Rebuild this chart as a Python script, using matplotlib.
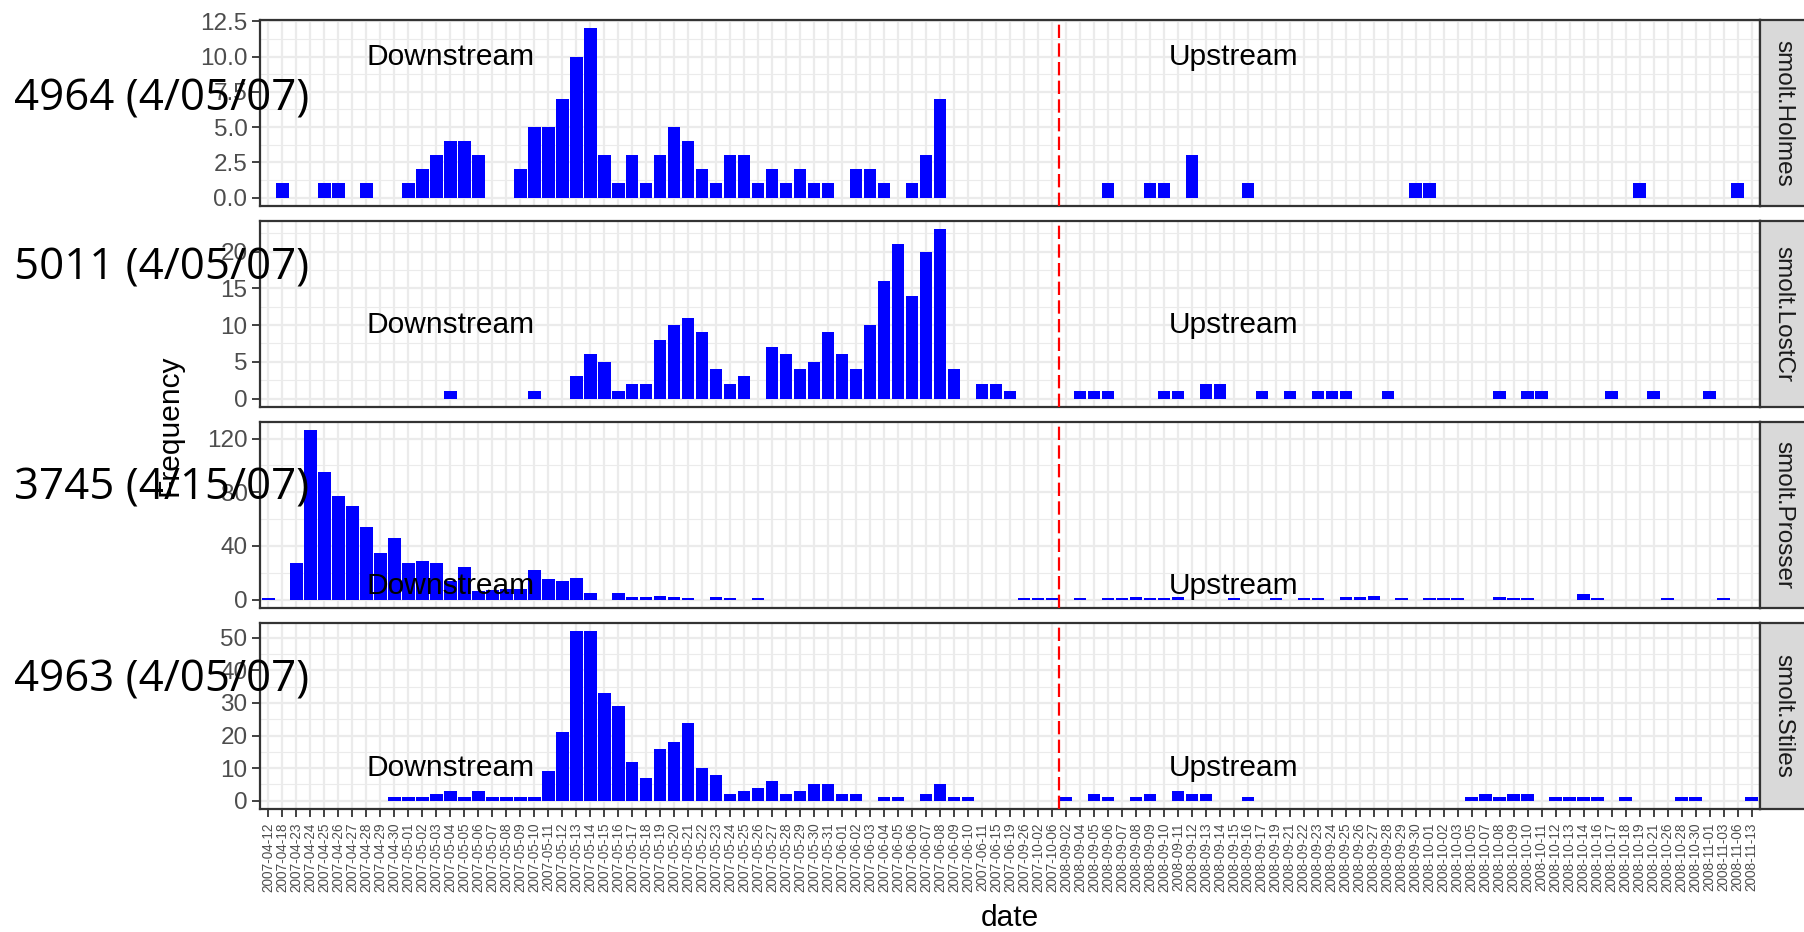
import numpy as np
import matplotlib.pyplot as plt

dates = [
    "2007-04-12", "2007-04-18", "2007-04-23", "2007-04-24", "2007-04-25", "2007-04-26",
    "2007-04-27", "2007-04-28", "2007-04-29", "2007-04-30", "2007-05-01", "2007-05-02",
    "2007-05-03", "2007-05-04", "2007-05-05", "2007-05-06", "2007-05-07", "2007-05-08",
    "2007-05-09", "2007-05-10", "2007-05-11", "2007-05-12", "2007-05-13", "2007-05-14",
    "2007-05-15", "2007-05-16", "2007-05-17", "2007-05-18", "2007-05-19", "2007-05-20",
    "2007-05-21", "2007-05-22", "2007-05-23", "2007-05-24", "2007-05-25", "2007-05-26",
    "2007-05-27", "2007-05-28", "2007-05-29", "2007-05-30", "2007-05-31", "2007-06-01",
    "2007-06-02", "2007-06-03", "2007-06-04", "2007-06-05", "2007-06-06", "2007-06-07",
    "2007-06-08", "2007-06-09", "2007-06-10", "2007-06-11", "2007-06-15", "2007-06-19",
    "2007-09-26", "2007-10-02", "2007-10-06",
    "2008-09-02", "2008-09-04", "2008-09-05", "2008-09-06", "2008-09-07", "2008-09-08",
    "2008-09-09", "2008-09-10", "2008-09-11", "2008-09-12", "2008-09-13", "2008-09-14",
    "2008-09-15", "2008-09-16", "2008-09-17", "2008-09-19", "2008-09-21", "2008-09-22",
    "2008-09-23", "2008-09-24", "2008-09-25", "2008-09-26", "2008-09-27", "2008-09-28",
    "2008-09-29", "2008-09-30", "2008-10-01", "2008-10-02", "2008-10-03", "2008-10-05",
    "2008-10-07", "2008-10-08", "2008-10-09", "2008-10-10", "2008-10-11", "2008-10-12",
    "2008-10-13", "2008-10-14", "2008-10-16", "2008-10-17", "2008-10-18", "2008-10-19",
    "2008-10-21", "2008-10-26", "2008-10-28", "2008-10-30", "2008-11-01", "2008-11-03",
    "2008-11-06", "2008-11-13",
]

# daily counts per site, one entry per date above
holmes = [
    0, 1, 0, 0, 1, 1, 0, 1, 0, 0,
    1, 2, 3, 4, 4, 3, 0, 0, 2, 5,
    5, 7, 10, 12, 3, 1, 3, 1, 3, 5,
    4, 2, 1, 3, 3, 1, 2, 1, 2, 1,
    1, 0, 2, 2, 1, 0, 1, 3, 7, 0,
    0, 0, 0, 0, 0, 0, 0, 0, 0, 0,
    1, 0, 0, 1, 1, 0, 3, 0, 0, 0,
    1, 0, 0, 0, 0, 0, 0, 0, 0, 0,
    0, 0, 1, 1, 0, 0, 0, 0, 0, 0,
    0, 0, 0, 0, 0, 0, 0, 0, 1, 0,
    0, 0, 0, 0, 0, 1, 0,
]
lostcr = [
    0, 0, 0, 0, 0, 0, 0, 0, 0, 0,
    0, 0, 0, 1, 0, 0, 0, 0, 0, 1,
    0, 0, 3, 6, 5, 1, 2, 2, 8, 10,
    11, 9, 4, 2, 3, 0, 7, 6, 4, 5,
    9, 6, 4, 10, 16, 21, 14, 20, 23, 4,
    0, 2, 2, 1, 0, 0, 0, 0, 1, 1,
    1, 0, 0, 0, 1, 1, 0, 2, 2, 0,
    0, 1, 0, 1, 0, 1, 1, 1, 0, 0,
    1, 0, 0, 0, 0, 0, 0, 0, 1, 0,
    1, 1, 0, 0, 0, 0, 1, 0, 0, 1,
    0, 0, 0, 1, 0, 0, 0,
]
prosser = [
    1, 0, 27, 126, 95, 77, 70, 54, 35, 46,
    27, 29, 27, 14, 24, 6, 7, 8, 8, 22,
    15, 14, 16, 5, 0, 5, 2, 2, 3, 2,
    1, 0, 2, 1, 0, 1, 0, 0, 0, 0,
    0, 0, 0, 0, 0, 0, 0, 0, 0, 0,
    0, 0, 0, 0, 1, 1, 1, 0, 1, 0,
    1, 1, 2, 1, 1, 2, 0, 0, 0, 1,
    0, 0, 1, 0, 1, 1, 0, 2, 2, 3,
    0, 1, 0, 1, 1, 1, 0, 0, 2, 1,
    1, 0, 0, 0, 4, 1, 0, 0, 0, 0,
    1, 0, 0, 0, 1, 0, 0,
]
stiles = [
    0, 0, 0, 0, 0, 0, 0, 0, 0, 1,
    1, 1, 2, 3, 1, 3, 1, 1, 1, 1,
    9, 21, 52, 52, 33, 29, 12, 7, 16, 18,
    24, 10, 8, 2, 3, 4, 6, 2, 3, 5,
    5, 2, 2, 0, 1, 1, 0, 2, 5, 1,
    1, 0, 0, 0, 0, 0, 0, 1, 0, 2,
    1, 0, 1, 2, 0, 3, 2, 2, 0, 0,
    1, 0, 0, 0, 0, 0, 0, 0, 0, 0,
    0, 0, 0, 0, 0, 0, 1, 2, 1, 2,
    2, 0, 1, 1, 1, 1, 0, 1, 0, 0,
    0, 1, 1, 0, 0, 0, 1,
]

sites = ["smolt.Holmes", "smolt.LostCr", "smolt.Prosser", "smolt.Stiles"]
counts = [holmes, lostcr, prosser, stiles]
yticks = [[0, 2.5, 5, 7.5, 10, 12.5], [0, 5, 10, 15, 20], [0, 40, 80, 120],
          [0, 10, 20, 30, 40, 50]]
tag_labels = ["4964 (4/05/07)", "5011 (4/05/07)", "3745 (4/15/07)", "4963 (4/05/07)"]
tag_y = [99, 268, 488, 680]

split_at = 56.5        # between the 2007 and 2008 seasons
down_x, up_x, label_y = 13, 69, 10

W, H = 1804, 932
plt.rcParams['font.family'] = ['Liberation Sans', 'DejaVu Sans']
fig = plt.figure(figsize=(W / 100, H / 100), dpi=100)

x = np.arange(len(dates))
left, pw, ph = 260, 1500, 186
tops = [20, 221, 422, 623]
grey30 = '#4D4D4D'

for k, (site, y) in enumerate(zip(sites, counts)):
    top = tops[k]
    ax = fig.add_axes([left / W, 1 - (top + ph) / H, pw / W, ph / H])
    y = np.array(y, dtype=float)
    keep = y > 0
    ax.bar(x[keep], y[keep], width=0.9, color='#0000FF', zorder=3)
    ymax = y.max()
    ax.set_ylim(-0.05 * ymax, 1.05 * ymax)
    ax.set_xlim(-0.6, len(dates) - 0.4)

    tk = yticks[k]
    ax.set_yticks(tk)
    if k == 0:
        ax.set_yticklabels([f"{t:.1f}" for t in tk])
    else:
        ax.set_yticklabels([f"{t:g}" for t in tk])
    step = tk[1] - tk[0]
    minors = [t + step / 2 for t in [tk[0] - step] + tk if -0.05 * ymax < t + step / 2 < 1.05 * ymax]
    ax.set_yticks(minors, minor=True)
    ax.set_xticks(x)
    ax.set_facecolor('white')
    ax.grid(True, which='major', color='#EBEBEB', linewidth=1.6, zorder=0)
    ax.grid(True, which='minor', axis='y', color='#EBEBEB', linewidth=0.8, zorder=0)
    ax.set_axisbelow(True)
    ax.tick_params(axis='y', which='minor', length=0)
    ax.tick_params(axis='y', which='major', labelsize=17.5, labelcolor=grey30,
                   color='#333333', length=6, width=1.3, pad=3)
    ax.tick_params(axis='x', color='#333333', length=6, width=1.3)
    if k == 3:
        ax.set_xticklabels(dates, rotation=90, fontsize=9.8, color=grey30)
    else:
        ax.tick_params(axis='x', labelbottom=False, length=0)
    for s in ax.spines.values():
        s.set_color('#333333')
        s.set_linewidth(1.6)

    ax.axvline(split_at, color='red', linestyle=(0, (6, 2.4)), linewidth=1.6, zorder=4)
    ax.text(down_x, label_y, "Downstream", fontsize=21.5, ha='center', va='center', zorder=5)
    ax.text(up_x, label_y, "Upstream", fontsize=21.5, ha='center', va='center', zorder=5)

    # facet strip on the right
    sax = fig.add_axes([(left + pw) / W, 1 - (top + ph) / H, 46 / W, ph / H])
    sax.set_facecolor('#D9D9D9')
    sax.set_xticks([])
    sax.set_yticks([])
    for s in sax.spines.values():
        s.set_color('#333333')
        s.set_linewidth(1.6)
    sax.text(0.5, 0.5, site, rotation=-90, ha='center', va='center', fontsize=17.5,
             color='#1A1A1A', transform=sax.transAxes)

    fig.text(14 / W, 1 - tag_y[k] / H, tag_labels[k], fontsize=31.5, family='Open Sans',
             ha='left', va='center', zorder=10)

fig.text(170 / W, 1 - 425 / H, "Frequency", rotation=90, fontsize=21.5, ha='center', va='center')
fig.text((left + pw / 2) / W, 1 - 918 / H, "date", fontsize=21.5, ha='center', va='center')

fig.savefig('out.png', dpi=100)
